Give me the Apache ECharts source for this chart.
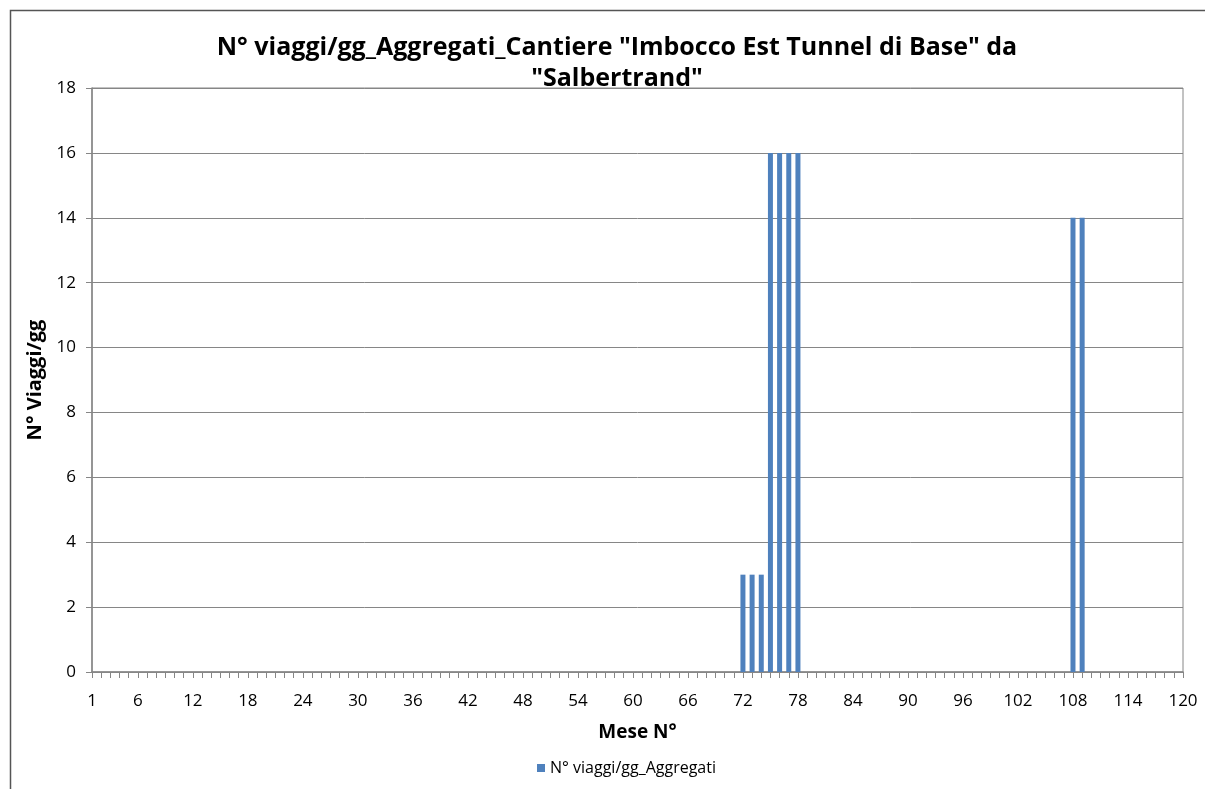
<!DOCTYPE html>
<html>
<head>
<meta charset="utf-8">
<script src="https://cdn.jsdelivr.net/npm/echarts@6/dist/echarts.min.js"></script>
<style>
  html, body { margin: 0; padding: 0; background: #fff; }
  #chart { width: 1205px; height: 789px; }
</style>
</head>
<body>
<div id="chart"></div>
<script>
// Month numbers 1..120
const months = [];
for (let m = 1; m <= 120; m++) months.push(String(m));

// Daily trips per month (aggregates); months not listed are zero
const activeMonths = [72, 73, 74, 75, 76, 77, 78, 108, 109];
const activeTrips  = [3, 3, 3, 16, 16, 16, 16, 14, 14];

const trips = months.map(function (m) {
  const i = activeMonths.indexOf(Number(m));
  return i >= 0 ? activeTrips[i] : 0;
});

const yTicks = [0, 2, 4, 6, 8, 10, 12, 14, 16, 18];

const FONT = '"Open Sans", "Noto Sans", sans-serif';
const chart = echarts.init(document.getElementById('chart'));

chart.setOption({
  animation: false,
  title: {
    text: 'N° viaggi/gg_Aggregati_Cantiere "Imbocco Est Tunnel di Base" da\n"Salbertrand"',
    left: 612,
    textAlign: 'center',
    top: 27,
    textStyle: { fontFamily: FONT, fontSize: 25, fontWeight: 'bold', color: '#000', lineHeight: 31 }
  },
  legend: {
    bottom: 8,
    left: 532,
    itemWidth: 8,
    itemHeight: 8,
    itemGap: 6,
    icon: 'rect',
    textStyle: { fontFamily: FONT, fontSize: 16, color: '#000' },
    data: ['N° viaggi/gg_Aggregati']
  },
  grid: {
    left: 92, right: 22, top: 88, bottom: 117,
    show: true, borderColor: '#868686', borderWidth: 1
  },
  xAxis: {
    type: 'category',
    data: months,
    boundaryGap: false,
    name: 'Mese N°',
    nameLocation: 'middle',
    nameGap: 51,
    nameTextStyle: { fontFamily: FONT, fontSize: 19, fontWeight: 'bold', color: '#000' },
    axisLine: { lineStyle: { color: '#868686', width: 1.5 } },
    axisTick: {
      show: true, inside: false, length: 6,
      interval: 0,
      lineStyle: { color: '#868686' }
    },
    axisLabel: {
      fontFamily: FONT, fontSize: 17, color: '#000', margin: 21,
      interval: function (idx, val) { return idx === 0 || Number(val) % 6 === 0; }
    },
    splitLine: { show: false }
  },
  yAxis: {
    type: 'value',
    min: yTicks[0],
    max: yTicks[yTicks.length - 1],
    interval: 2,
    name: 'N° Viaggi/gg',
    nameLocation: 'middle',
    nameGap: 42,
    nameRotate: 90,
    nameTextStyle: { fontFamily: FONT, fontSize: 20, fontWeight: 'bold', color: '#000' },
    axisLine: { show: true, lineStyle: { color: '#868686', width: 1.5 } },
    axisTick: { show: true, length: 6, lineStyle: { color: '#868686' } },
    axisLabel: { fontFamily: FONT, fontSize: 17, color: '#000', margin: 16 },
    splitLine: { show: true, lineStyle: { color: '#868686', width: 1 } }
  },
  series: [{
    name: 'N° viaggi/gg_Aggregati',
    type: 'bar',
    data: trips,
    barWidth: 5,
    itemStyle: { color: '#4f81bd' }
  }],
  graphic: [{
    type: 'rect',
    shape: { x: 10.5, y: 10.5, width: 1400, height: 1000 },
    style: { fill: null, stroke: '#555', lineWidth: 1.5 },
    silent: true,
    z: -10
  }]
});
</script>
</body>
</html>
